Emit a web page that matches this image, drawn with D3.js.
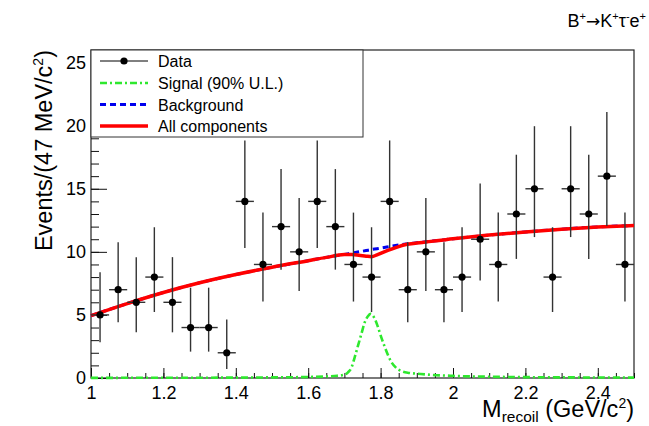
<!DOCTYPE html>
<html>
<head>
<meta charset="utf-8">
<script src="https://cdn.jsdelivr.net/npm/d3@7/dist/d3.min.js"></script>
<style>
  html, body { margin: 0; padding: 0; background: #fff; }
  svg { display: block; font-family: "Liberation Sans", Arial, Helvetica, sans-serif; }
</style>
</head>
<body>
<svg id="chart" width="649" height="426"></svg>
<script>
// ---------------- data ----------------
const binCenters = [1.025,1.075,1.125,1.175,1.225,1.275,1.325,1.375,1.425,1.475,
                    1.525,1.575,1.625,1.675,1.725,1.775,1.825,1.875,1.925,1.975,
                    2.025,2.075,2.125,2.175,2.225,2.275,2.325,2.375,2.425,2.475];
const counts     = [5,7,6,8,6,4,4,2,14,9,
                    12,10,14,12,9,8,14,7,10,7,
                    8,11,9,13,15,8,15,13,16,9];
// lower / upper ends of the (asymmetric) error bars
const errLow  = [2.84,4.42,3.62,5.23,3.62,2.09,2.09,0.71,10.30,6.06,
                 8.59,6.89,10.30,8.59,6.06,5.23,10.30,4.42,6.89,4.42,
                 5.23,7.73,6.06,9.44,11.17,5.23,11.17,9.44,12.04,6.06];
const errHigh = [8.38,10.77,9.58,11.95,9.58,7.16,7.16,4.64,18.83,13.11,
                 16.56,14.27,18.83,16.56,13.11,11.95,18.83,10.77,14.27,10.77,
                 11.95,15.42,13.11,17.70,19.96,11.95,19.96,17.70,21.08,13.11];
const binHalfWidth = 0.025;

// fit curves
const fitX   = [1.0,1.1,1.2,1.3,1.4,1.5,1.6,1.65,1.7,1.72,1.74,1.76,1.775,1.79,1.81,1.83,1.85,1.87,1.9,2.0,2.1,2.2,2.3,2.4,2.5];
const bkgY   = [4.94,5.90,6.78,7.55,8.20,8.78,9.30,9.56,9.80,9.90,10.00,10.10,10.18,10.25,10.35,10.45,10.54,10.62,10.72,11.03,11.33,11.58,11.80,11.97,12.09];
const totalY = [4.94,5.90,6.78,7.55,8.20,8.78,9.30,9.56,9.78,9.78,9.73,9.66,9.62,9.76,10.00,10.22,10.42,10.58,10.70,11.03,11.33,11.58,11.80,11.97,12.09];

const sigX = [1.0,1.2,1.4,1.5,1.6,1.65,1.68,1.70,1.71,1.72,1.728,1.737,1.747,1.756,1.765,1.772,1.783,1.792,1.801,1.811,1.820,1.829,1.843,1.857,1.88,1.91,1.94,2.0,2.1,2.2,2.3,2.4,2.5];
const sigY = [0.01,0.02,0.03,0.05,0.08,0.12,0.18,0.26,0.45,0.85,1.6,2.5,3.5,4.4,4.9,5.08,4.75,4.1,3.3,2.5,1.85,1.3,0.8,0.55,0.4,0.32,0.25,0.17,0.1,0.07,0.05,0.04,0.03];

const xTickVals = [1,1.2,1.4,1.6,1.8,2,2.2,2.4];
const yTickVals = [0,5,10,15,20,25];
const legendLabels = ["Data","Signal (90% U.L.)","Background","All components"];

// ---------------- layout ----------------
const L = 91, R = 634, T = 50, B = 378;
const svg = d3.select("#chart");
const x = d3.scaleLinear().domain([1, 2.5]).range([L, R]);
const y = d3.scaleLinear().domain([0, 26]).range([B, T]);

// frame
svg.append("rect").attr("x", L).attr("y", T).attr("width", R - L).attr("height", B - T)
   .attr("fill", "none").attr("stroke", "#222").attr("stroke-width", 1.2);

// axes
const fmt = d3.format("~g");
const gx = svg.append("g").attr("transform", `translate(0,${B})`)
  .call(d3.axisBottom(x).tickValues(xTickVals).tickFormat(fmt).tickSizeInner(-10).tickSizeOuter(0).tickPadding(8));
const gxm = svg.append("g").attr("transform", `translate(0,${B})`)
  .call(d3.axisBottom(x).ticks(30).tickFormat("").tickSizeInner(-5).tickSizeOuter(0));
const gy = svg.append("g").attr("transform", `translate(${L},0)`)
  .call(d3.axisLeft(y).tickValues(yTickVals).tickFormat(fmt).tickSizeInner(-16).tickSizeOuter(0).tickPadding(5));
const gym = svg.append("g").attr("transform", `translate(${L},0)`)
  .call(d3.axisLeft(y).ticks(26).tickFormat("").tickSizeInner(-8).tickSizeOuter(0));
[gx, gxm, gy, gym].forEach(g => {
  g.select(".domain").remove();
  g.selectAll(".tick line").attr("stroke", "#111").attr("stroke-width", 1);
  g.selectAll(".tick text").attr("font-size", 18).attr("fill", "#000")
    .attr("font-family", "Liberation Sans, Arial, sans-serif");
});

// curves
const lineFit = (xs, ys) => d3.line().x((d, i) => x(xs[i])).y(d => y(d)).curve(d3.curveMonotoneX)(ys);

svg.append("path").attr("d", lineFit(sigX, sigY))
  .attr("fill", "none").attr("stroke", "#2ee82e").attr("stroke-width", 2.6)
  .attr("stroke-dasharray", "7,3,2,3");
svg.append("path").attr("d", lineFit(fitX, bkgY))
  .attr("fill", "none").attr("stroke", "#0000ee").attr("stroke-width", 3)
  .attr("stroke-dasharray", "6,4");
svg.append("path").attr("d", lineFit(fitX, totalY))
  .attr("fill", "none").attr("stroke", "#ff0000").attr("stroke-width", 3.5);

// data points
const pts = svg.append("g");
binCenters.forEach((c, i) => {
  pts.append("line").attr("x1", x(c)).attr("x2", x(c))
    .attr("y1", y(errLow[i])).attr("y2", y(errHigh[i]))
    .attr("stroke", "#333").attr("stroke-width", 1.4);
  pts.append("line").attr("x1", x(c - binHalfWidth)).attr("x2", x(c + binHalfWidth))
    .attr("y1", y(counts[i])).attr("y2", y(counts[i]))
    .attr("stroke", "#333").attr("stroke-width", 1.4);
  pts.append("circle").attr("cx", x(c)).attr("cy", y(counts[i])).attr("r", 3.6).attr("fill", "#000");
});

// legend
const lg = svg.append("g");
lg.append("rect").attr("x", L).attr("y", T).attr("width", 272).attr("height", 87)
  .attr("fill", "#fff").attr("stroke", "#333").attr("stroke-width", 1);
const rowY = [61, 83, 104.5, 126];
const styles = [
  {stroke: "#000", w: 1, dash: null},
  {stroke: "#2ee82e", w: 2.6, dash: "7,3,2,3"},
  {stroke: "#0000ee", w: 3, dash: "6,4"},
  {stroke: "#ff0000", w: 3.5, dash: null}
];
legendLabels.forEach((lab, i) => {
  const s = styles[i];
  const ln = lg.append("line").attr("x1", 100).attr("x2", 148).attr("y1", rowY[i]).attr("y2", rowY[i])
    .attr("stroke", s.stroke).attr("stroke-width", s.w);
  if (s.dash) ln.attr("stroke-dasharray", s.dash);
  if (i === 0) lg.append("circle").attr("cx", 124).attr("cy", rowY[i]).attr("r", 3.6).attr("fill", "#000");
  lg.append("text").attr("x", 158).attr("y", rowY[i] + 6).attr("font-size", 16).attr("fill", "#000").text(lab);
});

// title
const title = svg.append("text").attr("x", 646).attr("y", 27).attr("text-anchor", "end")
  .attr("font-size", 18).attr("fill", "#000");
const parts = [["B",0],["+",1],["\u2192",2],["K",0],["+",1],["\u03C4",0],["-",1],["e",0],["+",1]];
parts.forEach(([t, kind], i) => {
  const prev = i > 0 ? parts[i-1][1] : 0;
  const ts = title.append("tspan").text(t);
  const isSup = kind === 1, prevSup = prev === 1;
  ts.attr("dy", isSup && !prevSup ? -7 : (!isSup && prevSup ? 7 : 0));
  if (isSup) ts.attr("font-size", 11);
  if (kind === 2) ts.attr("font-family", "DejaVu Sans, sans-serif").attr("font-size", 17);
});

// x-axis title
const xt = svg.append("text").attr("x", 634).attr("y", 417).attr("text-anchor", "end")
  .attr("font-size", 23.5).attr("fill", "#000");
xt.append("tspan").text("M");
xt.append("tspan").attr("font-size", 15.5).attr("dy", 5).text("recoil");
xt.append("tspan").attr("dy", -5).text(" (GeV/c");
xt.append("tspan").attr("font-size", 14).attr("dy", -9).text("2");
xt.append("tspan").attr("dy", 9).text(")");

// y-axis title
const yt = svg.append("text").attr("transform", "translate(52,50) rotate(-90)")
  .attr("text-anchor", "end").attr("font-size", 23.5).attr("fill", "#000");
yt.append("tspan").text("Events/(47 MeV/c");
yt.append("tspan").attr("font-size", 14).attr("dy", -9).text("2");
yt.append("tspan").attr("dy", 9).text(")");
</script>
</body>
</html>
